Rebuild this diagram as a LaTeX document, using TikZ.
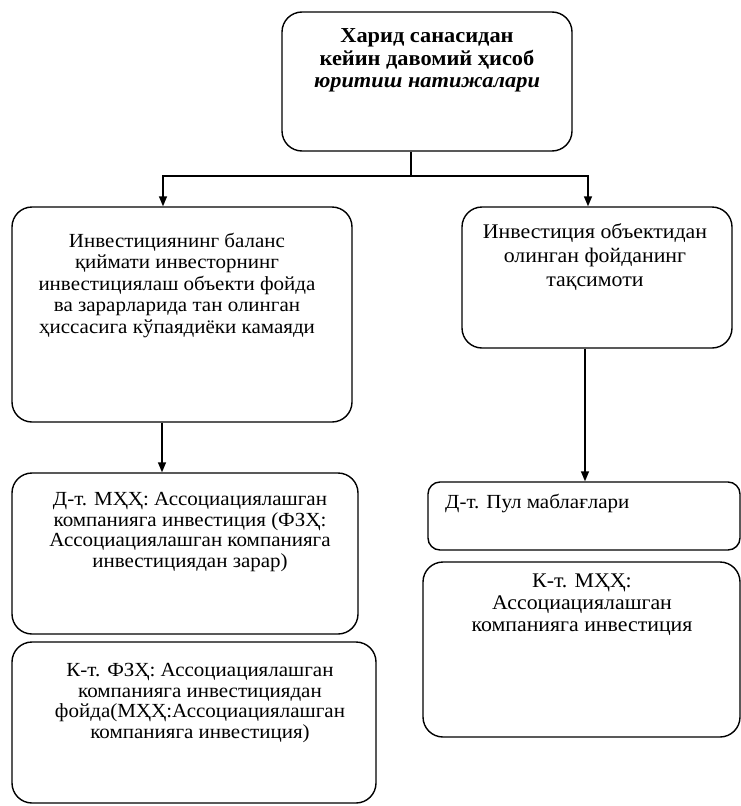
\documentclass[tikz,border=0pt]{standalone}
\usepackage{fontspec}
\setmainfont[FakeStretch=1.05]{Liberation Serif}
\usetikzlibrary{arrows.meta}
\begin{document}
\begin{tikzpicture}[x=1pt,y=-1pt,
  card/.style={draw,line width=1.4pt,rounded corners=20pt,inner sep=0pt,
    minimum width=#1},
  lbl/.style={align=center,inner sep=0pt,font=\fontsize{20}{20.5}\selectfont},
  link/.style={line width=1.4pt},
  arr/.style={link,-{Triangle[length=10pt,width=8pt]}}]
\useasboundingbox (0,0) rectangle (740,806);

% boxes
\node[card=290pt,minimum height=139pt] (top) at (427,81.5) {};
\node[card=340pt,minimum height=215pt] (L1) at (182,314.5) {};
\node[card=270pt,minimum height=141pt] (R1) at (597,277.5) {};
\node[card=346pt,minimum height=161pt] (L2) at (185,553.5) {};
\node[card=364pt,minimum height=161pt] (L3) at (194,722.5) {};
\node[card=312pt,minimum height=68pt,rounded corners=12pt] (R2) at (584,516) {};
\node[card=317pt,minimum height=175pt] (R3) at (581.5,649.5) {};

% texts
\node[lbl,font=\fontsize{21.3}{22.5}\selectfont\bfseries] (ttop) at (427,60.5)
  {Харид санасидан\\кейин давомий ҳисоб\\\textit{юритиш натижалари}};
\node[lbl,font=\fontsize{20}{21.5}\selectfont] (tL1) at (177,285)
  {Инвестициянинг баланс\\қиймати инвесторнинг\\инвестициялаш объекти фойда\\ва зарарларида тан олинган\\ҳиссасига кўпаядиёки камаяди};
\node[lbl,font=\fontsize{20.8}{24}\selectfont] (tR1) at (595,257)
  {Инвестиция объектидан\\олинган фойданинг\\тақсимоти};
\node[lbl] (tL2) at (190,532)
  {Д-т. МҲҲ: Ассоциациялашган\\компанияга инвестиция (ФЗҲ:\\Ассоциациялашган компанияга\\инвестициядан зарар)};
\node[lbl] (tL3) at (200,703)
  {К-т. ФЗҲ: Ассоциациялашган\\компанияга инвестициядан\\фойда(МҲҲ:Ассоциациялашган\\компанияга инвестиция)};
\node[lbl,anchor=west] (tR2) at (445,503) {Д-т. Пул маблағлари};
\node[lbl,font=\fontsize{20.8}{22}\selectfont] (tR3) at (582,605)
  {К-т. МҲҲ:\\Ассоциациялашган\\компанияга инвестиция};

% connectors
\coordinate (fork) at (411,176);
\draw[link] (top.south -| fork) -- (fork);
\draw[arr] (fork) -| ([xshift=-19pt]L1.north);
\draw[arr] (fork) -| ([xshift=-9pt]R1.north);
\draw[arr] ([xshift=-20pt]L1.south) -- ([xshift=-20pt]L1.south |- L2.north);
\draw[arr] ([xshift=-12pt]R1.south) -- ([xshift=-12pt]R1.south |- R2.north);
\end{tikzpicture}
\end{document}
